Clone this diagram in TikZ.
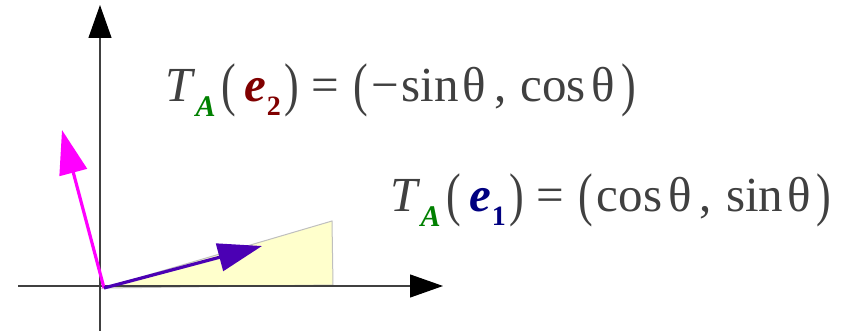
\documentclass[tikz,border=0pt]{standalone}
\usepackage{fontspec}
\setmainfont{Liberation Serif}
\usetikzlibrary{arrows.meta}

\definecolor{txtgray}{HTML}{404040}
\definecolor{agreen}{HTML}{008000}
\definecolor{etwored}{HTML}{800000}
\definecolor{eoneblue}{HTML}{000080}
\definecolor{vecblue}{HTML}{4B00B4}
\definecolor{vecmagenta}{HTML}{FF00FF}
\definecolor{wedgefill}{HTML}{FFFFCC}

\newcommand{\subA}{\raisebox{-0.3em}{\fontsize{15}{15}\selectfont\textbf{\textit{\color{agreen}A}}}}
\newcommand{\vece}[2]{\textbf{\textit{\color{#1}e}}\hspace{0.5pt}\raisebox{-0.28em}{\fontsize{14}{14}\selectfont\textbf{\color{#1}#2}}}
\newcommand{\tallp}[1]{\raisebox{-0.06em}{\scalebox{0.9}[1.2]{#1}}}
\newcommand{\hs}[1]{\hspace{#1pt}}

\begin{document}
\begin{tikzpicture}[x=0.5pt, y=-0.5pt,
  axis/.style={draw=black!75, line width=0.6pt, -{Triangle[length=16.5pt, width=11.5pt, color=black]}},
  vec/.style={line width=1.6pt, -{Triangle[length=22pt, width=14pt]}},
  formula/.style={text=txtgray, font=\fontsize{24.5}{29}\selectfont, inner sep=0pt, anchor=base west}]

  \useasboundingbox (0,0) rectangle (848,331);

  % axes
  \coordinate (O) at (104,288);
  \coordinate (xl) at (18,286);
  \coordinate (xr) at (443,286);
  \coordinate (yb) at (100,331);
  \coordinate (yt) at (100,5);
  \coordinate (wtop) at (332,221);
  \coordinate (wbot) at (333,285);

  \filldraw[fill=wedgefill, draw=black!25, line width=0.5pt] (O) -- (wtop) -- (wbot) -- cycle;

  \draw[axis] (xl) -- (xr);
  \draw[axis] (yb) -- (yt);

  % rotated basis vectors
  \coordinate (e1tip) at (262,246);
  \coordinate (e2tip) at (62,130);
  \draw[vec, vecmagenta] (O) -- (e2tip);
  \draw[vec, vecblue] (O) -- (e1tip);

  \node[formula] (ftop) at (165,102)
    {\textit{T}\subA\hs{3}\tallp{(}\hs{4}\vece{etwored}{2}\hs{2}\tallp{)}\hs{6}=\hs{7}\tallp{(}\hs{2}−\hs{1}sin\hs{2}θ\hs{4},\hs{7}cos\hs{3}θ\hs{3}\tallp{)}};
  \node[formula] (fbot) at (390,212)
    {\textit{T}\subA\hs{3}\tallp{(}\hs{4}\vece{eoneblue}{1}\hs{2}\tallp{)}\hs{6}=\hs{7}\tallp{(}\hs{2}cos\hs{3}θ\hs{4},\hs{7}sin\hs{2}θ\hs{3}\tallp{)}};

\end{tikzpicture}
\end{document}
